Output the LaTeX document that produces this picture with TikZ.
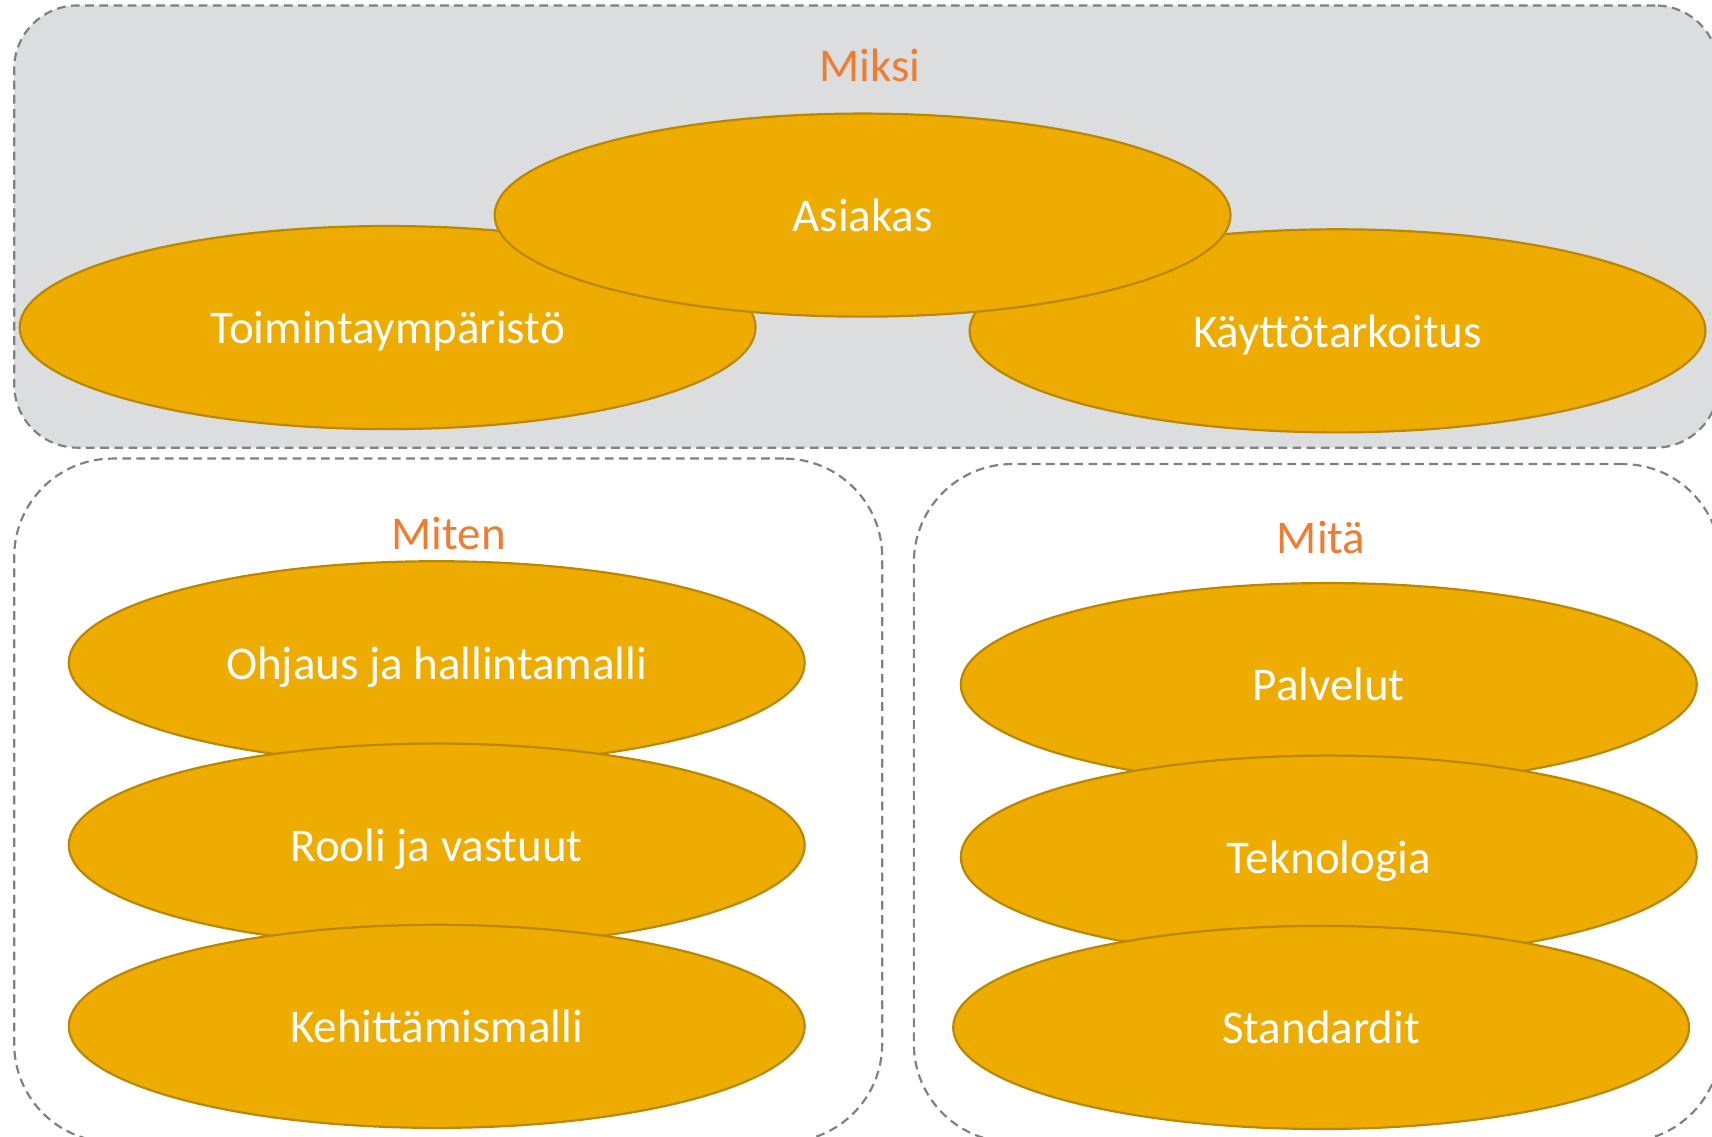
\documentclass[tikz,border=0pt]{standalone}
\usepackage{fontspec}
\setmainfont{Carlito}
\usetikzlibrary{shapes.geometric}

\definecolor{goldfill}{RGB}{238,172,0}
\definecolor{goldline}{RGB}{186,135,0}
\definecolor{greybg}{RGB}{220,221,223}
\definecolor{dashgrey}{RGB}{128,128,128}
\definecolor{headorange}{RGB}{237,125,49}

\begin{document}
\begin{tikzpicture}[
        x=0.5pt, y=-0.5pt,
        font=\fontsize{21.5}{26}\selectfont,
        group/.style={draw=dashgrey, rectangle, dash pattern=on 4pt off 2.5pt, line width=1pt, inner sep=0pt},
        oval/.style={ellipse, draw=goldline, line width=1pt, fill=goldfill, text=white,
          minimum width=337pt, minimum height=93pt, inner sep=0pt, text height=19.5pt, text depth=4.5pt},
        head/.style={text=headorange, inner sep=0pt, text height=19.5pt, text depth=4.5pt}
      ]
      \useasboundingbox (0,0) rectangle (1568,1041);

      % --- Groups ---
      \node[group, fill=greybg, rounded corners=29pt, minimum width=780.5pt, minimum height=202.5pt] (why) at (793.5,207.5) {};
      \node[group, rounded corners=45pt, minimum width=397.5pt, minimum height=313pt] (how) at (410.5,733) {};
      \node[group, rounded corners=45pt, minimum width=369.5pt, minimum height=310.5pt] (what) at (1206.5,735.5) {};

      \node[head] (whyhead) at (797,60) {Miksi};
      \node[head] (howhead) at (411,488) {Miten};
      \node[head] (whathead) at (1210,492) {Mitä};

      % --- Miksi ---
      \node[oval] (env) at (355,300) {Toimintaympäristö};
      \node[oval] (use) at (1225,303) {Käyttötarkoitus};
      \node[oval] (cust) at (790,197) {Asiakas};

      % --- Miten ---
      \node[oval] (gov) at (400,607) {Ohjaus ja hallintamalli};
      \node[oval] (role) at (400,774) {Rooli ja vastuut};
      \node[oval] (dev) at (400,940) {Kehittämismalli};

      % --- Mitä ---
      \node[oval] (serv) at (1217,627) {Palvelut};
      \node[oval] (tech) at (1217,785) {Teknologia};
      \node[oval] (std) at (1210,941) {Standardit};

    \end{tikzpicture}
\end{document}
